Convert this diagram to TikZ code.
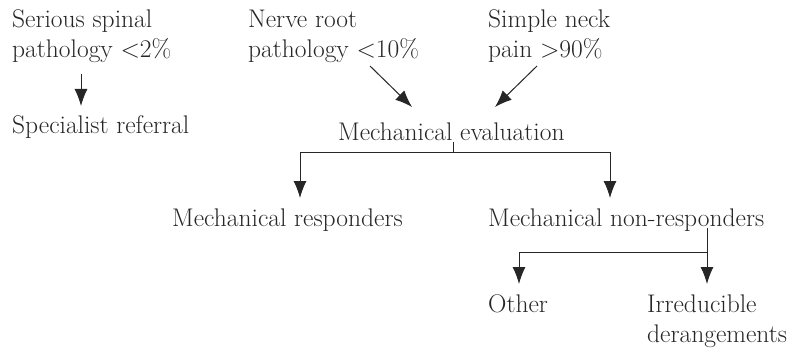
\documentclass[tikz,border=0pt]{standalone}
\usetikzlibrary{arrows.meta}
\begin{document}
\begin{tikzpicture}[x=1pt,y=-1pt,
  lbl/.style={inner sep=0pt,anchor=base west,align=left,font=\fontsize{25.5}{30}\selectfont,text=black!85},
  conn/.style={draw=black!85,line width=1pt},
  arr/.style={conn,-{Latex[length=17pt,width=13pt]}}]
\useasboundingbox (0,0) rectangle (808,350);
\node[lbl] (ser) at (12,58) {Serious spinal\\pathology <2\%};
\node[lbl] (spec) at (12,133) {Specialist referral};
\node[lbl] (ner) at (248,58) {Nerve root\\pathology <10\%};
\node[lbl] (sim) at (488,58) {Simple neck\\pain >90\%};
\node[lbl] (mev) at (338,140) {Mechanical evaluation};
\node[lbl] (mr) at (172,226) {Mechanical responders};
\node[lbl] (mnr) at (488,226) {Mechanical non-responders};
\node[lbl] (oth) at (488,312) {Other};
\node[lbl] (irr) at (647,342) {Irreducible\\derangements};
\coordinate (a1s) at (81,74);
\coordinate (a1e) at (81,106);
\draw[arr] (a1s) -- (a1e);
\coordinate (a2s) at (370,66);
\coordinate (a2e) at (412,107);
\draw[arr] (a2s) -- (a2e);
\coordinate (a3s) at (537,66);
\coordinate (a3e) at (495,107);
\draw[arr] (a3s) -- (a3e);
\coordinate (t1) at (453,142);
\coordinate (j1) at (453,152);
\coordinate (l1) at (300,152);
\coordinate (r1) at (610,152);
\coordinate (l1e) at (300,198);
\coordinate (r1e) at (610,198);
\draw[conn] (t1) -- (j1);
\draw[arr] (j1) -- (l1) -- (l1e);
\draw[arr] (j1) -- (r1) -- (r1e);
\coordinate (t2) at (707,228);
\coordinate (j2) at (707,252);
\coordinate (l2) at (519,252);
\coordinate (l2e) at (519,284);
\coordinate (r2e) at (707,284);
\draw[arr] (t2) -- (r2e);
\draw[arr] (j2) -- (l2) -- (l2e);
\end{tikzpicture}
\end{document}
